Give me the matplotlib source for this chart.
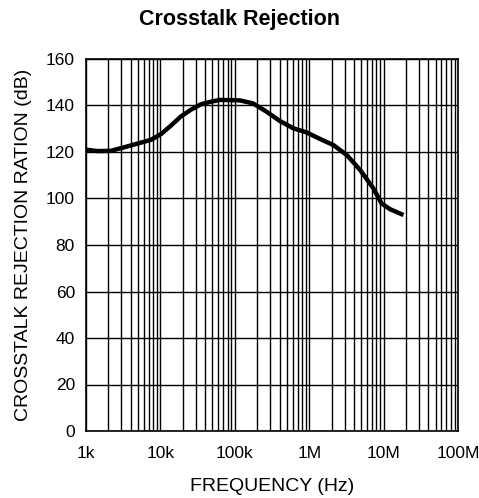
import matplotlib
matplotlib.use("Agg")
import matplotlib.pyplot as plt
from matplotlib.ticker import LogLocator, FixedLocator, NullFormatter

plt.rcParams['font.family'] = ['Liberation Sans', 'DejaVu Sans']

freq = [1e3, 1.42e3, 2.15e3, 3.24e3, 4.9e3, 7.41e3, 10.1e3, 13.7e3, 18.7e3,
        25.5e3, 34.9e3, 47.3e3, 63.1e3, 117e3, 176e3, 268e3, 405e3, 612e3,
        925e3, 1.4e6, 2.11e6, 3.2e6, 4.83e6, 7.27e6, 9.38e6, 12.2e6, 18.5e6]
rejection = [121, 120.4, 120.5, 122, 123.6, 125.2, 127.6, 131.2, 135.2,
             138.1, 140.5, 141.6, 142.4, 142.2, 140.9, 137.3, 133.3, 130.2,
             128.4, 125.6, 123, 118.7, 112.3, 104.4, 97.9, 95.4, 92.9]

xticks = [1e3, 1e4, 1e5, 1e6, 1e7, 1e8]
xlabels = ["1k", "10k", "100k", "1M", "10M", "100M"]
yticks = list(range(0, 161, 20))

fig = plt.figure(figsize=(4.79, 4.98), dpi=100)
ax = fig.add_axes([86 / 479, 67 / 498, 372 / 479, 372 / 498])

ax.set_xscale("log")
ax.set_xlim(1e3, 1e8)
ax.set_ylim(0, 160)

ax.xaxis.set_major_locator(FixedLocator(xticks))
ax.set_xticklabels(xlabels)
ax.xaxis.set_minor_locator(LogLocator(base=10, subs=range(2, 10), numticks=20))
ax.xaxis.set_minor_formatter(NullFormatter())
ax.set_yticks(yticks)

ax.grid(True, which="both", axis="x", color="black", linewidth=1.0)
ax.grid(True, which="major", axis="y", color="black", linewidth=1.0)
ax.tick_params(which="both", length=0, labelsize=12.5)
ax.tick_params(axis="x", pad=11)
ax.tick_params(axis="y", pad=8)
for s in ax.spines.values():
    s.set_linewidth(1.2)

ax.plot(freq, rejection, color="black", linewidth=3.2,
        solid_joinstyle="round", solid_capstyle="butt")

ax.set_xlabel("FREQUENCY (Hz)", fontsize=14, labelpad=12)
ax.set_ylabel("CROSSTALK REJECTION RATION (dB)", fontsize=14, labelpad=10)
fig.suptitle("Crosstalk Rejection", fontsize=15.5, fontweight="bold", y=0.982)

fig.savefig("out.png", dpi=100)
